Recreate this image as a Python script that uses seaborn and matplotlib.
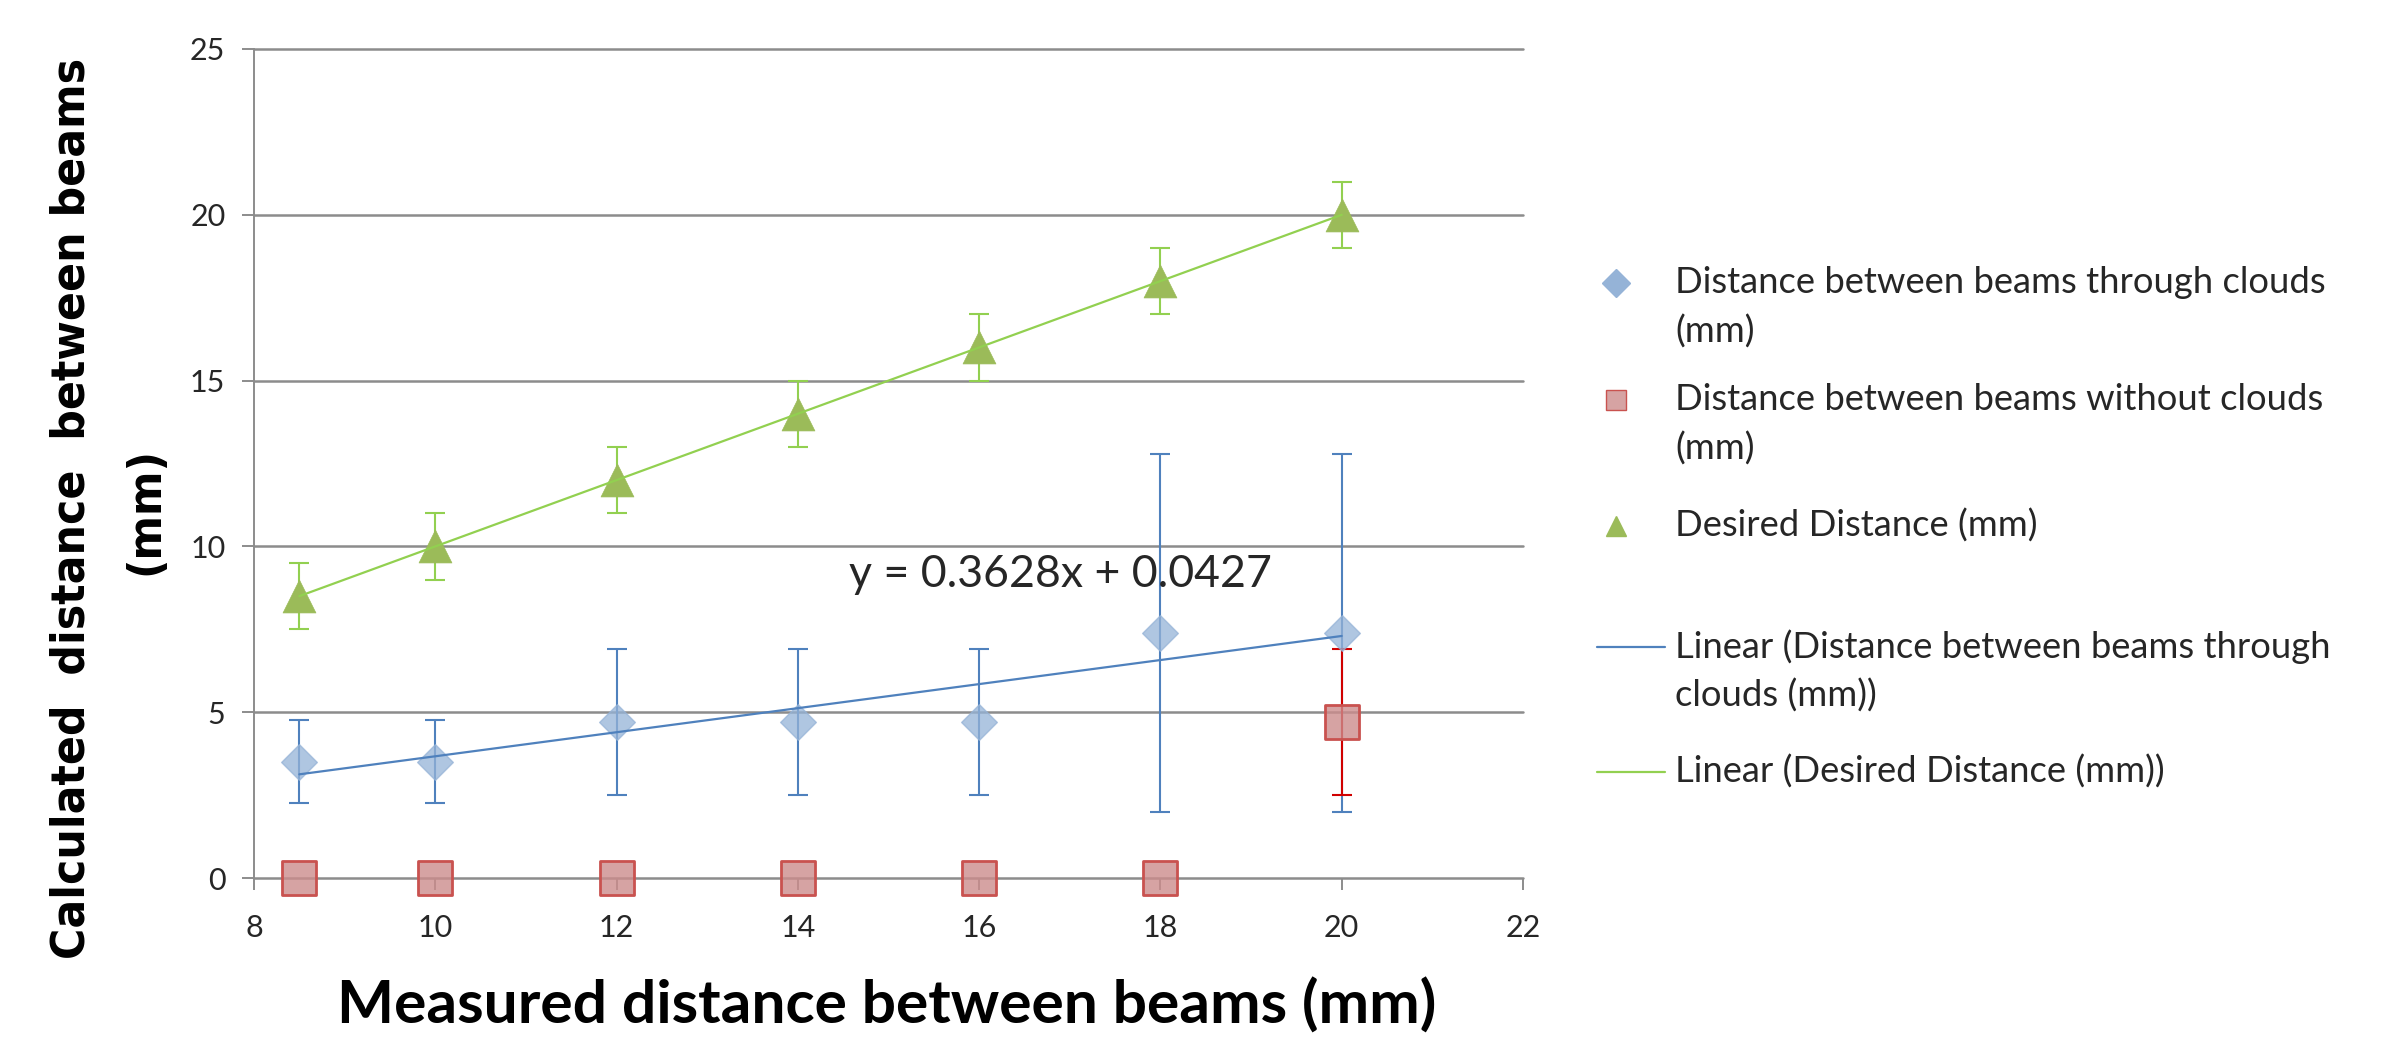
import numpy as np
import pandas as pd
import matplotlib
matplotlib.use("Agg")
import matplotlib.pyplot as plt
import seaborn as sns
from matplotlib.lines import Line2D
from matplotlib import font_manager as fm

# ---------------- data ----------------
measured = [8.5, 10, 12, 14, 16, 18, 20]
through_clouds = [3.5, 3.5, 4.7, 4.7, 4.7, 7.4, 7.4]
through_clouds_err = [1.25, 1.25, 2.2, 2.2, 2.2, 5.4, 5.4]
without_clouds = [0, 0, 0, 0, 0, 0, 4.7]
without_clouds_err = [0, 0, 0, 0, 0, 0, 2.2]
desired = [8.5, 10, 12, 14, 16, 18, 20]
desired_err = [1, 1, 1, 1, 1, 1, 1]
trend_slope = 0.3628
trend_intercept = 0.0427
x_ticks = [8, 10, 12, 14, 16, 18, 20, 22]
y_ticks = [0, 5, 10, 15, 20, 25]

df = pd.DataFrame({"measured": measured, "clouds": through_clouds,
                   "noclouds": without_clouds, "desired": desired})

# ---------------- style ----------------
sns.set_theme(style="white")
plt.rcParams["font.family"] = ["Lato", "DejaVu Sans"]

BLUE = "#4F81BD"
BLUE_FILL = "#95B3D7"
RED = "#C9524F"
RED_FILL = (0.80, 0.55, 0.55, 0.8)
RED_ERR = "#D00000"
GREEN = "#9BBB59"
GREEN_LINE = "#92D050"
GRID = "#8C8C8C"
TXT = "#262626"

W, H = 2383, 1038
fig = plt.figure(figsize=(W / 100, H / 100), dpi=100)
ax = fig.add_axes([254 / W, 1 - 878 / H, (1523 - 254) / W, (878 - 49) / H])

ax.set_xlim(8, 22)
ax.set_ylim(0, 25)
ax.set_xticks(x_ticks)
ax.set_yticks(y_ticks)
ax.grid(False)
for y in y_ticks:
    ax.axhline(y, color=GRID, lw=1.8, zorder=1, clip_on=False)
for s in ["top", "right", "bottom"]:
    ax.spines[s].set_visible(False)
ax.spines["left"].set_color(GRID)
ax.spines["left"].set_linewidth(1.4)
ax.tick_params(axis="both", which="major", direction="out", length=8.6,
               width=1.4, color=GRID, labelsize=22, labelcolor=TXT)
ax.tick_params(axis="y", pad=12, left=True)
ax.tick_params(axis="x", pad=17, bottom=True)

# error bars
ax.errorbar(measured, through_clouds, yerr=through_clouds_err, fmt="none",
            ecolor=BLUE, elinewidth=1.5, capsize=7, capthick=1.5, zorder=3)
nc_x = [m for m, e in zip(measured, without_clouds_err) if e > 0]
nc_y = [v for v, e in zip(without_clouds, without_clouds_err) if e > 0]
nc_e = [e for e in without_clouds_err if e > 0]
ax.errorbar(nc_x, nc_y, yerr=nc_e, fmt="none", ecolor=RED_ERR,
            elinewidth=1.5, capsize=7, capthick=1.5, zorder=3)
ax.errorbar(measured, desired, yerr=desired_err, fmt="none",
            ecolor=GREEN_LINE, elinewidth=1.5, capsize=7, capthick=1.5, zorder=3)

# trend lines
xr = np.array([min(measured), max(measured)])
ax.plot(xr, trend_slope * xr + trend_intercept, color=BLUE, lw=1.6, zorder=5)
g_slope, g_int = np.polyfit(measured, desired, 1)
ax.plot(xr, g_slope * xr + g_int, color=GREEN_LINE, lw=1.6, zorder=5)

# markers
sns.scatterplot(data=df, x="measured", y="clouds", marker="D", s=330,
                color=BLUE_FILL, edgecolor=BLUE_FILL, linewidth=1, alpha=0.75,
                ax=ax, zorder=4, clip_on=False, legend=False)
sns.scatterplot(data=df, x="measured", y="noclouds", marker="s", s=620,
                facecolor=RED_FILL, edgecolor=RED, linewidth=2,
                ax=ax, zorder=4, clip_on=False, legend=False)
sns.scatterplot(data=df, x="measured", y="desired", marker="^", s=560,
                color=GREEN, edgecolor=GREEN, linewidth=0.5,
                ax=ax, zorder=4, clip_on=False, legend=False)
ax.set_xlabel("")
ax.set_ylabel("")

fig.canvas.draw()
renderer = fig.canvas.get_renderer()


def fit(t, target, vertical=False):
    bb = t.get_window_extent(renderer)
    cur = bb.height if vertical else bb.width
    t.set_fontsize(t.get_fontsize() * target / cur)


# trendline equation
eq = ax.text(16.9, 9.15, f"y = {trend_slope}x + {trend_intercept}", fontsize=30,
             color=TXT, ha="center", va="center", zorder=6)
fit(eq, 422)

# axis titles
xl = fig.text(887 / W, 1 - 1006 / H, "Measured distance between beams (mm)",
              fontsize=42, fontweight="bold", color="black", ha="center", va="center")
fit(xl, 1099)

ybold = dict(family="DejaVu Sans", fontweight="bold")
conds = [f for f in fm.fontManager.ttflist
         if f.name == "DejaVu Sans" and f.stretch == "condensed" and f.weight in ("bold", 700)]
if conds:
    ybold = dict(fontproperties=fm.FontProperties(fname=conds[0].fname))
yl1 = fig.text(72 / W, 1 - 508 / H, "Calculated  distance  between beams",
               fontsize=30, color="black", rotation=90, ha="center", va="center", **ybold)
fit(yl1, 897, vertical=True)
fs_y = yl1.get_fontsize() if not conds else None
yl2 = fig.text(146 / W, 1 - 511 / H, "(mm)", color="black", rotation=90,
               ha="center", va="center", **ybold)
yl2.set_fontsize(yl1.get_fontsize())

# legend (Excel style, wrapped)
LX_MARK = 1616 / W
LX_LINE0, LX_LINE1 = 1597 / W, 1665 / W
LX_TEXT = 1675 / W
probe = fig.text(0, 0, "Distance between beams through clouds", fontsize=24)
fit(probe, 650)
fs_leg = probe.get_fontsize()
probe.remove()
entries = [
    ("D", BLUE_FILL, BLUE_FILL, 283, ["Distance between beams through clouds", "(mm)"]),
    ("s", RED_FILL, RED, 400, ["Distance between beams without clouds", "(mm)"]),
    ("^", GREEN, GREEN, 526, ["Desired Distance (mm)"]),
]
for mk, fc, ec, ypix, lines in entries:
    fig.add_artist(Line2D([LX_MARK], [1 - ypix / H], marker=mk, markersize=14,
                          markerfacecolor=fc, markeredgecolor=ec, linestyle="none",
                          transform=fig.transFigure))
    for i, t in enumerate(lines):
        fig.text(LX_TEXT, 1 - (ypix + 49 * i) / H, t, fontsize=fs_leg, color=TXT,
                 ha="left", va="center")
for col, ypix, lines in [(BLUE, 647, ["Linear (Distance between beams through", "clouds (mm))"]),
                         (GREEN_LINE, 772, ["Linear (Desired Distance (mm))"])]:
    fig.add_artist(Line2D([LX_LINE0, LX_LINE1], [1 - ypix / H] * 2, color=col, lw=1.6,
                          transform=fig.transFigure))
    for i, t in enumerate(lines):
        fig.text(LX_TEXT, 1 - (ypix + 49 * i) / H, t, fontsize=fs_leg, color=TXT,
                 ha="left", va="center")

fig.savefig("out.png", dpi=100, facecolor="white")
